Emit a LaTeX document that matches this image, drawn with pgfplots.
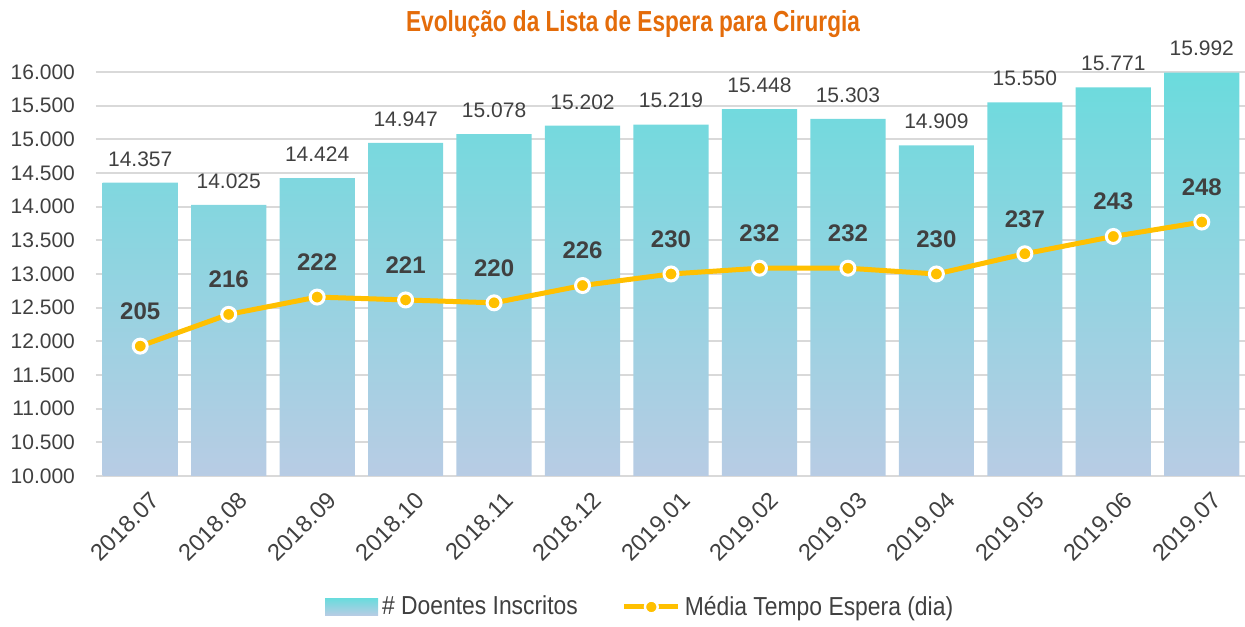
\documentclass[border=0pt]{standalone}
\usepackage{fontspec}
\setmainfont{Liberation Sans}
\newfontfamily\condfont{Liberation Sans}[FakeStretch=0.88]
\newfontfamily\titlefont{Liberation Sans}[FakeStretch=0.78]
\usepackage{pgfplots}
\usepackage{pgfplotstable}
\pgfplotsset{compat=1.18}
\definecolor{txt}{HTML}{404040}
\definecolor{ttl}{HTML}{E46C0A}
\definecolor{grd}{HTML}{D9D9D9}
\definecolor{bartop}{HTML}{6BDBDD}
\definecolor{barbot}{HTML}{B8CCE4}
\definecolor{lin}{HTML}{FFC000}

\pgfplotstableread{
x  n
0  14357
1  14025
2  14424
3  14947
4  15078
5  15202
6  15219
7  15448
8  15303
9  14909
10 15550
11 15771
12 15992
}\doentes

\pgfplotstableread{
x  d
0  205
1  216
2  222
3  221
4  220
5  226
6  230
7  232
8  232
9  230
10 237
11 243
12 248
}\media

\pgfplotsset{/pgf/number format/.cd, 1000 sep={.}, assume math mode=true}

\begin{document}
\begin{tikzpicture}
\begin{axis}[
  width=575pt, height=202pt, scale only axis,
  xmin=-0.5, xmax=12.5, ymin=10000, ymax=16000,
  ytick={10000,10500,...,16000},
  scaled y ticks=false,
  xtick={0,...,12},
  xticklabels={2018.07,2018.08,2018.09,2018.10,2018.11,2018.12,2019.01,2019.02,2019.03,2019.04,2019.05,2019.06,2019.07},
  xticklabel style={rotate=45, anchor=east, font=\fontsize{11.8}{13}\selectfont, text=txt, xshift=1.5pt, yshift=-12.5pt},
  yticklabel style={font=\fontsize{10.5}{12}\selectfont, text=txt, xshift=-7pt},
  ymajorgrids, grid style={grd, line width=0.9pt},
  axis lines*=left,
  y axis line style={draw=none},
  x axis line style={grd, line width=1.1pt},
  major tick length=0pt,
  clip=false,
  ybar, bar width=0.85,
  nodes near coords,
  every node near coord/.append style={font=\fontsize{10.5}{12}\selectfont, text=txt, anchor=south, inner sep=0pt, yshift=8pt},
  legend style={at={(0.474,0)}, anchor=center, yshift=-65.5pt, draw=none, fill=none,
    font=\condfont\fontsize{13}{15}\selectfont, text=txt, legend columns=2,
    /tikz/every even column/.append style={column sep=20pt}},
]
\coordinate (bl) at (rel axis cs:0,0);
\coordinate (tr) at (rel axis cs:1,1);
\addplot[draw=none, top color=bartop, bottom color=barbot,
  legend image code/.code={\shade[top color=bartop, bottom color=barbot] (0pt,-4.2pt) rectangle (26.5pt,4.2pt);}]
  table[x=x, y=n] {\doentes};
\addlegendentry{\# Doentes Inscritos}
\addlegendimage{lin, line width=2.5pt, mark=*, mark size=3.2pt, mark options={fill=lin, draw=white, line width=1.2pt},
  legend image code/.code={\draw[lin, line width=2.5pt] (0pt,0pt) -- (27pt,0pt);
     \draw[white, line width=1.2pt, fill=lin] (13.5pt,0pt) circle (3.2pt);}}
\addlegendentry{Média Tempo Espera (dia)}
\node[font=\titlefont\bfseries\fontsize{14.5}{16}\selectfont, text=ttl] at (rel axis cs:0.467,1) [yshift=24pt] {Evolução da Lista de Espera para Cirurgia};
\end{axis}
\begin{axis}[
  width=575pt, height=202pt, scale only axis,
  xmin=-0.5, xmax=12.5, ymin=160, ymax=300,
  hide axis, clip=false,
  nodes near coords,
  every node near coord/.append style={font=\bfseries\fontsize{12}{14}\selectfont, text=txt, anchor=south, inner sep=0pt, yshift=12.5pt},
]
\addplot[lin, line width=2.5pt, mark=*, mark size=3.5pt, mark options={fill=lin, draw=white, line width=1.5pt}]
  table[x=x, y=d] {\media};
\end{axis}
\pgfresetboundingbox
\path[use as bounding box] ([shift={(-48pt,-75.5pt)}]bl) rectangle ([shift={(-0.5pt,36pt)}]tr);
\end{tikzpicture}
\end{document}
